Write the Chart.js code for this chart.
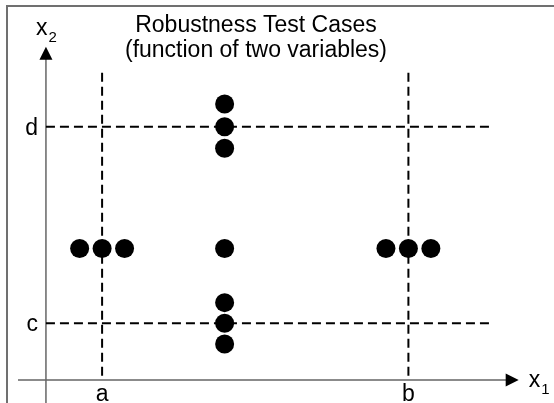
<!DOCTYPE html>
<html>
<head>
<meta charset="utf-8">
<script src="https://cdn.jsdelivr.net/npm/chart.js@4.4.1/dist/chart.umd.min.js"></script>
<style>
  html, body { margin: 0; padding: 0; background: #fff; }
  #wrap { width: 554px; height: 403px; position: relative; }
</style>
</head>
<body>
<div id="wrap"><canvas id="robustChart"></canvas></div>
<script>
// test case points (x1, x2)
const caseX = [7.8, 10, 12.2, 22, 37.8, 40, 42.2, 22, 22, 22, 22, 22, 22]
const caseY = [17.6, 17.6, 17.6, 17.6, 17.6, 17.6, 17.6, 7.9, 10, 12.1, 27.8, 30, 32.3]

// boundaries and their tick labels
const boundX = [10, 40]
const boundXLabels = ['a', 'b']
const boundY = [10, 30]
const boundYLabels = ['c', 'd']

// where the axes cross and how far lines run (data units)
const origin = { x: 4.5, y: 4.23 }
const xAxisSpan = [1.76, 50.8]
const yAxisSpan = [1.89, 38.14]
const vGuideSpan = [35.5, 4.23]
const hGuideSpan = [4.5, 48.3]

const titleLines = ['Robustness Test Cases', '(function of two variables)']

const FONT = '"Liberation Sans", Arial, sans-serif'

function arrow(ctx, x, y, dir){
    // dir: 'right' or 'up', (x,y) is the tip
    ctx.beginPath()
    if(dir === 'right'){
        ctx.moveTo(x, y)
        ctx.lineTo(x - 13, y - 6.5)
        ctx.lineTo(x - 13, y + 6.5)
    }else{
        ctx.moveTo(x, y)
        ctx.lineTo(x - 6.5, y + 13)
        ctx.lineTo(x + 6.5, y + 13)
    }
    ctx.closePath()
    ctx.fill()
}

function label(ctx, main, sub, x, y){
    ctx.font = '23px ' + FONT
    ctx.textAlign = 'left'
    ctx.textBaseline = 'alphabetic'
    ctx.fillText(main, x, y)
    const w = ctx.measureText(main).width
    ctx.font = '15px ' + FONT
    ctx.fillText(sub, x + w + 1, y + 7)
}

const sketch = {
    id: 'sketch',
    beforeDatasetsDraw(chart){
        const ctx = chart.ctx
        const xs = chart.scales.x
        const ys = chart.scales.y
        ctx.save()

        // frame
        ctx.strokeStyle = '#707070'
        ctx.lineWidth = 2
        ctx.beginPath()
        ctx.moveTo(7, chart.height)
        ctx.lineTo(7, 6)
        ctx.lineTo(chart.width, 6)
        ctx.stroke()

        // axes
        const ox = xs.getPixelForValue(origin.x)
        const oy = ys.getPixelForValue(origin.y)
        const xEnd = xs.getPixelForValue(xAxisSpan[1])
        const yEnd = ys.getPixelForValue(yAxisSpan[1])
        ctx.strokeStyle = '#666'
        ctx.lineWidth = 1.5
        ctx.beginPath()
        ctx.moveTo(xs.getPixelForValue(xAxisSpan[0]), oy)
        ctx.lineTo(xEnd - 6, oy)
        ctx.moveTo(ox, ys.getPixelForValue(yAxisSpan[0]))
        ctx.lineTo(ox, yEnd + 6)
        ctx.stroke()
        ctx.fillStyle = '#000'
        arrow(ctx, xEnd, oy, 'right')
        arrow(ctx, ox, yEnd, 'up')

        // title
        ctx.fillStyle = '#000'
        ctx.font = '23px ' + FONT
        ctx.textAlign = 'center'
        ctx.textBaseline = 'alphabetic'
        ctx.fillText(titleLines[0], 256, 32)
        ctx.fillText(titleLines[1], 256, 57)

        // boundary labels
        boundX.forEach((v, i) => {
            ctx.textAlign = 'center'
            ctx.fillText(boundXLabels[i], xs.getPixelForValue(v), oy + 21)
        })
        boundY.forEach((v, i) => {
            ctx.textAlign = 'right'
            ctx.fillText(boundYLabels[i], ox - 8, ys.getPixelForValue(v) + 8)
        })

        // axis names
        label(ctx, 'x', '1', xEnd + 10, oy + 7)
        label(ctx, 'x', '2', ox - 10, yEnd - 12)

        ctx.restore()
    }
}

const guides = [
    ...boundX.map(v => ({
        data: [{ x: v, y: vGuideSpan[0] }, { x: v, y: vGuideSpan[1] }]
    })),
    ...boundY.map(v => ({
        data: [{ x: hGuideSpan[0], y: v }, { x: hGuideSpan[1], y: v }]
    }))
].map(d => ({
    ...d,
    showLine: true,
    borderColor: '#000',
    borderWidth: 2,
    borderDash: [9, 5],
    pointRadius: 0,
    fill: false
}))

const ctx = document.getElementById('robustChart').getContext('2d')

new Chart(ctx, {
    type: 'scatter',
    data: {
        datasets: [
            {
                data: caseX.map((x, i) => ({ x: x, y: caseY[i] })),
                backgroundColor: '#000',
                borderWidth: 0,
                pointRadius: 9.5,
                pointHoverRadius: 9.5
            },
            ...guides
        ]
    },
    options: {
        responsive: true,
        maintainAspectRatio: false,
        animation: false,
        layout: { padding: 0, autoPadding: false },
        plugins: { legend: { display: false }, tooltip: { enabled: false } },
        scales: {
            x: { type: 'linear', min: 0, max: 54.26, display: false },
            y: { type: 'linear', min: 1.89, max: 42.89, display: false }
        }
    },
    plugins: [sketch]
})
</script>
</body>
</html>
